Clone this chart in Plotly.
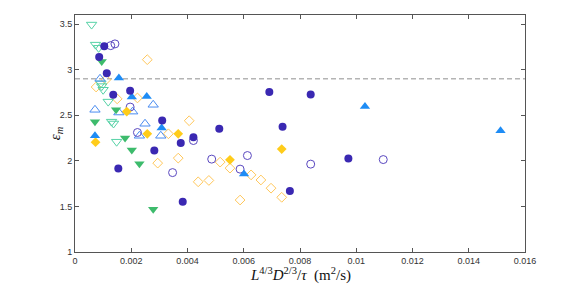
import plotly.graph_objects as go

# ---- data ----
circ_f_x = [0.00104, 0.00086, 0.00113, 0.00136, 0.00196, 0.0031, 0.00376, 0.00421, 0.00282, 0.00154,
            0.00383, 0.00513, 0.00738, 0.00764, 0.00691, 0.00838, 0.00972]
circ_f_y = [3.256, 3.14, 2.96, 2.725, 2.77, 2.443, 2.195, 2.26, 2.113, 1.915,
            1.55, 2.352, 2.374, 1.67, 2.755, 2.729, 2.025]

circ_o_x = [0.00127, 0.00142, 0.00196, 0.00222, 0.00421, 0.00347, 0.00486, 0.00613, 0.00587, 0.00838, 0.01096]
circ_o_y = [3.264, 3.283, 2.59, 2.311, 2.223, 1.871, 2.019, 2.058, 1.909, 1.964, 2.014]

tri_up_f_x = [0.00156, 0.00202, 0.00255, 0.00308, 0.00071, 0.00601, 0.01031, 0.01513]
tri_up_f_y = [2.909, 2.70, 2.707, 2.36, 2.275, 1.857, 2.597, 2.33]

tri_up_o_x = [0.00089, 0.00071, 0.00156, 0.00205, 0.00278, 0.00249, 0.00229, 0.00305]
tri_up_o_y = [2.90, 2.56, 2.53, 2.54, 2.615, 2.407, 2.275, 2.275]

tri_dn_f_x = [0.00095, 0.00146, 0.00071, 0.00178, 0.00202, 0.00229, 0.00278]
tri_dn_f_y = [3.09, 2.56, 2.43, 2.25, 2.12, 1.967, 1.47]

tri_dn_o_x = [0.00059, 0.00073, 0.00084, 0.00092, 0.00095, 0.0010, 0.00118, 0.0013, 0.00137, 0.00148]
tri_dn_o_y = [3.495, 3.275, 3.24, 2.85, 2.82, 2.78, 2.65, 2.43, 2.41, 2.21]

dia_f_x = [0.00184, 0.00073, 0.00257, 0.00367, 0.00551, 0.00735]
dia_f_y = [2.54, 2.205, 2.297, 2.297, 2.011, 2.129]

dia_o_x = [0.00257, 0.00075, 0.0011, 0.0015, 0.00222, 0.00406, 0.00332, 0.00294, 0.00367, 0.00438,
           0.00476, 0.00516, 0.00551, 0.00626, 0.00661, 0.00697, 0.00735, 0.00587]
dia_o_y = [3.11, 2.81, 2.89, 2.68, 2.69, 2.44, 2.297, 1.975, 2.03, 1.77,
           1.785, 1.986, 1.92, 1.846, 1.79, 1.70, 1.60, 1.57]

THRESHOLD = 2.9
x_ticks = [0, 0.002, 0.004, 0.006, 0.008, 0.01, 0.012, 0.014, 0.016]
x_tick_labels = ["0", "0.002", "0.004", "0.006", "0.008", "0.01", "0.012", "0.014", "0.016"]
y_ticks = [1, 1.5, 2, 2.5, 3, 3.5]
y_tick_labels = ["1", "1.5", "2", "2.5", "3", "3.5"]

fig = go.Figure()

def add(x, y, symbol, color, size, open_=False):
    if open_:
        marker = dict(symbol=symbol + "-open", color=color, size=size, line=dict(width=1, color=color))
    else:
        marker = dict(symbol=symbol, color=color, size=size, line=dict(width=0))
    fig.add_trace(go.Scatter(x=x, y=y, mode="markers", marker=marker, showlegend=False, hoverinfo="x+y"))

add(dia_o_x, dia_o_y, "diamond", "#FFC75A", 7.5, True)
add(tri_dn_o_x, tri_dn_o_y, "triangle-down", "#55D2A6", 9, True)
add(tri_up_o_x, tri_up_o_y, "triangle-up", "#4A8CF0", 9, True)
add(circ_o_x, circ_o_y, "circle", "#5A48C0", 8, True)
add(dia_f_x, dia_f_y, "diamond", "#FFCC1A", 7.5)
add(tri_dn_f_x, tri_dn_f_y, "triangle-down", "#3DBB6C", 9)
add(tri_up_f_x, tri_up_f_y, "triangle-up", "#1E8CF5", 9)
add(circ_f_x, circ_f_y, "circle", "#3A28B2", 8)

fig.add_shape(type="line", xref="paper", x0=0, x1=1, yref="y", y0=THRESHOLD, y1=THRESHOLD,
              line=dict(color="#B4B4B4", width=1.5, dash="5px,3px"), layer="below")

axis_common = dict(showline=True, linecolor="#555555", linewidth=1, mirror="ticks",
                   ticks="inside", ticklen=4, tickcolor="#555555", showgrid=False, zeroline=False,
                   tickfont=dict(family="Liberation Sans", size=9, color="#333333"))

fig.update_xaxes(range=[0, 0.016], tickvals=x_ticks, ticktext=x_tick_labels, **axis_common)
fig.update_yaxes(range=[1, 3.6], tickvals=y_ticks, ticktext=y_tick_labels, **axis_common)

fig.add_annotation(text="<i>L</i><sup>4/3</sup><i>D</i><sup>2/3</sup>/<i>τ</i>  (m<sup>2</sup>/s)",
                   xref="paper", yref="paper", x=0.5, y=-0.095, xanchor="center", yanchor="middle",
                   showarrow=False, font=dict(family="Liberation Serif", size=15, color="#111111"))
fig.add_annotation(text="<i>ε<sub>m</sub></i>", textangle=-90,
                   xref="paper", yref="paper", x=-0.043, y=0.5, xanchor="center", yanchor="middle",
                   showarrow=False, font=dict(family="Liberation Serif", size=15, color="#111111"))

# page body has an 8px margin; compensate so the plot area lands at the reference position
fig.update_layout(width=573, height=282, margin=dict(l=67, r=56, t=7, b=38),
                  plot_bgcolor="white", paper_bgcolor="white")

fig.write_html("out.html")
